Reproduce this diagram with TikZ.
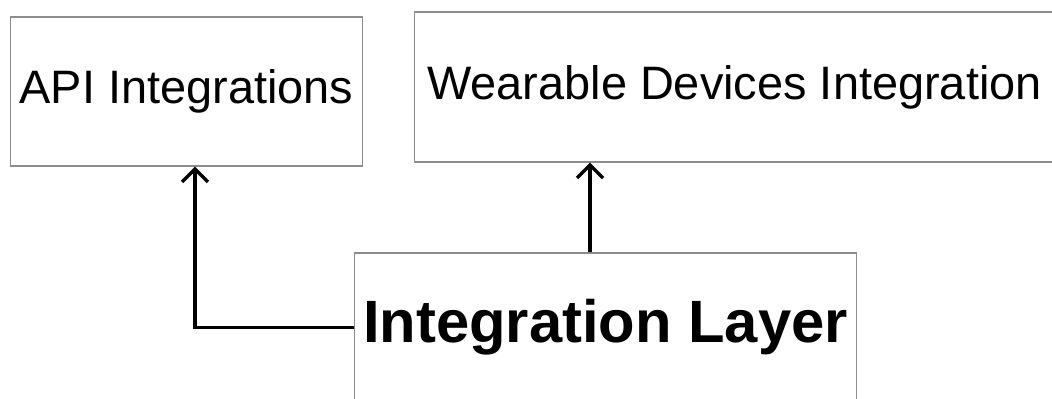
\documentclass[tikz,border=0pt]{standalone}
\usepackage{fontspec}
\setmainfont{Liberation Sans}
\usetikzlibrary{positioning}
\usetikzlibrary{arrows.meta}

\begin{document}
\begin{tikzpicture}[x=0.02cm,y=-0.02cm,
  box/.style={draw=black!45, line width=0.6pt, inner sep=0pt, align=center,
    font=\fontsize{26.7}{32}\selectfont},
  link/.style={line width=2pt, -{Straight Barb[length=0.26cm,width=0.52cm,line width=2pt]}}]
\useasboundingbox (0,0) rectangle (1052,399);
\node[box, minimum width=7.06cm, minimum height=2.98cm] (api) at (186.5,91.5) {API Integrations};
\node[box, minimum width=12.82cm, minimum height=3cm] (wear) at (734.5,87) {Wearable Devices Integration};
\node[box, minimum width=10.06cm, minimum height=2.98cm,
  font=\fontsize{34}{40}\selectfont\bfseries] (layer) at (605.5,327.5) {Integration Layer};
% arrows up from the layer
\draw[link] (layer.west) -| ([xshift=0.17cm]api.south);
\draw[link] ([xshift=-0.31cm]layer.north) -- ([xshift=-0.31cm]layer.north |- wear.south);
\end{tikzpicture}
\end{document}
